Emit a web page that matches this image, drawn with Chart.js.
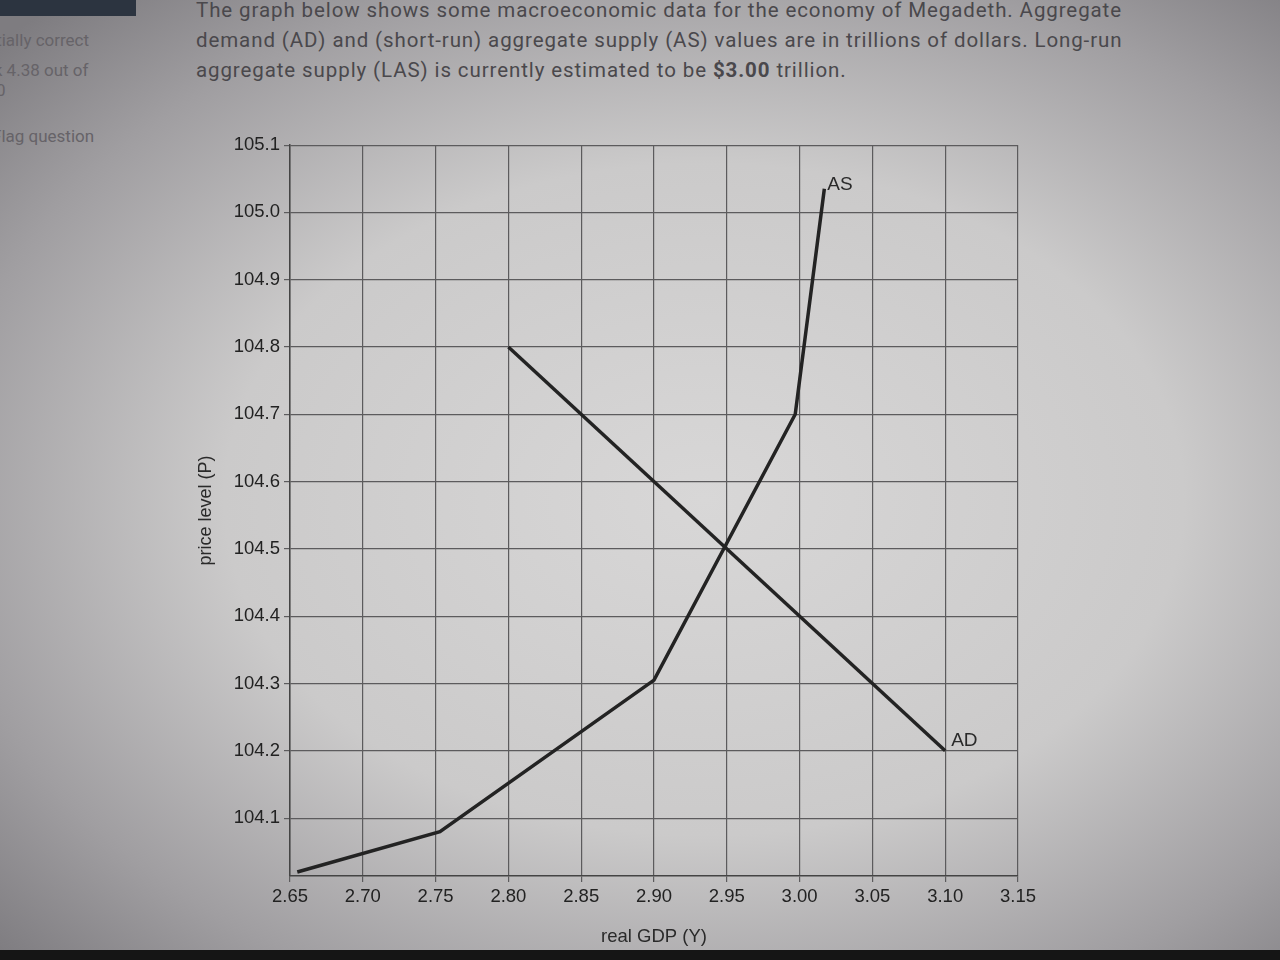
<!DOCTYPE html>
<html>
<head>
<meta charset="utf-8">
<script src="https://cdn.jsdelivr.net/npm/chart.js@4.4.0/dist/chart.umd.min.js"></script>
<style>
  html, body { margin: 0; padding: 0; }
  body {
    width: 1280px; height: 960px; overflow: hidden; position: relative;
    background: radial-gradient(ellipse 75% 70% at 55% 52%, #d8d7d7 0%, #cbcaca 50%, #a09ea1 80%, #7e7c80 100%);
    font-family: "Liberation Sans", Arial, sans-serif;
  }
  .intro {
    position: absolute; left: 196px; top: -5px; width: 1000px;
    font-family: Roboto, "Liberation Sans", sans-serif;
    font-size: 20.5px; letter-spacing: 0.9px; line-height: 30px; color: #4a484c;
  }
  .side { position: absolute; font-family: Roboto, sans-serif; font-size: 17px; color: #666368; white-space: nowrap; }
  .qbox { position: absolute; left: 0; top: 0; width: 136px; height: 16px; background: #2c3440; }
  .bottom { position: absolute; left: 0; top: 950px; width: 1280px; height: 10px; background: #151515; }
  #wrap { position: absolute; left: 195px; top: 130px; width: 845px; height: 818px; }
</style>
</head>
<body>
<div class="qbox"></div>
<div class="side" style="left:-10px; top:30px;">rtially correct</div>
<div class="side" style="left:-12px; top:60px;">rk 4.38 out of</div>
<div class="side" style="left:-4px; top:80px;">0</div>
<div class="side" style="left:-8px; top:126px;">Flag question</div>
<div class="intro">
  The graph below shows some macroeconomic data for the economy of Megadeth. Aggregate<br>
  demand (AD) and (short-run) aggregate supply (AS) values are in trillions of dollars. Long-run<br>
  aggregate supply (LAS) is currently estimated to be <b>$3.00</b> trillion.
</div>
<div id="wrap"><canvas id="chart" width="845" height="818"></canvas></div>
<div class="bottom"></div>

<script>
// real GDP (trillions) and price level values
const asGdp = [2.655, 2.753, 2.90, 2.997, 3.017];
const asPrice = [104.02, 104.08, 104.305, 104.70, 105.035];
const adGdp = [2.80, 3.10];
const adPrice = [104.80, 104.20];

const xTicks = [2.65, 2.70, 2.75, 2.80, 2.85, 2.90, 2.95, 3.00, 3.05, 3.10, 3.15];
const yTicks = [104.1, 104.2, 104.3, 104.4, 104.5, 104.6, 104.7, 104.8, 104.9, 105.0, 105.1];

const toPoints = (xs, ys) => xs.map((x, i) => ({ x: x, y: ys[i] }));

// Write the curve name right next to its last point
const endLabels = {
    id: 'endLabels',
    afterDatasetsDraw(chart) {
        const ctx = chart.ctx;
        ctx.save();
        ctx.font = '19px "Liberation Sans", Arial, sans-serif';
        ctx.fillStyle = '#2a2a2a';
        ctx.textBaseline = 'middle';
        chart.data.datasets.forEach((ds, i) => {
            const pts = chart.getDatasetMeta(i).data;
            const last = pts[pts.length - 1];
            if (ds.label === 'AS') {
                ctx.fillText(ds.label, last.x + 3, last.y - 4);
            } else {
                ctx.fillText(ds.label, last.x + 6, last.y - 10);
            }
        });
        ctx.restore();
    }
};

const gridColor = '#5c5b5d';
const tickFont = { family: '"Liberation Sans", Arial, sans-serif', size: 18.5 };

new Chart(document.getElementById('chart').getContext('2d'), {
    type: 'line',
    data: {
        datasets: [{
            label: 'AS',
            data: toPoints(asGdp, asPrice),
            borderColor: '#232323',
            borderWidth: 3.5,
            pointRadius: 0,
            tension: 0
        }, {
            label: 'AD',
            data: toPoints(adGdp, adPrice),
            borderColor: '#232323',
            borderWidth: 3.5,
            pointRadius: 0,
            tension: 0
        }]
    },
    options: {
        responsive: false,
        animation: false,
        layout: { padding: { top: 12, right: 20, left: 0, bottom: 0 } },
        plugins: {
            legend: { display: false },
            tooltip: { enabled: false }
        },
        scales: {
            x: {
                type: 'linear',
                min: 2.65,
                max: 3.15,
                afterBuildTicks: axis => { axis.ticks = xTicks.map(v => ({ value: v })); },
                afterFit: axis => { axis.height = 72; },
                grid: { color: gridColor, lineWidth: 1.2, tickLength: 6 },
                border: { color: '#444', width: 1.5 },
                ticks: {
                    color: '#222',
                    font: tickFont,
                    padding: 4,
                    maxRotation: 0,
                    callback: v => Number(v).toFixed(2)
                },
                title: {
                    display: true,
                    text: 'real GDP (Y)',
                    color: '#2a2a2a',
                    font: { family: '"Liberation Sans", Arial, sans-serif', size: 18.5 },
                    padding: { top: 4, bottom: 0 }
                }
            },
            y: {
                type: 'linear',
                min: 104.014,
                max: 105.1,
                afterBuildTicks: axis => { axis.ticks = yTicks.map(v => ({ value: v })); },
                afterFit: axis => { axis.width = 95; },
                grid: { color: gridColor, lineWidth: 1.2, tickLength: 6 },
                border: { color: '#444', width: 1.5 },
                ticks: {
                    color: '#222',
                    font: tickFont,
                    padding: 4,
                    callback: v => Number(v).toFixed(1)
                },
                title: {
                    display: true,
                    text: 'price level (P)',
                    color: '#2a2a2a',
                    font: { family: '"Liberation Sans", Arial, sans-serif', size: 18 },
                    padding: { top: 0, bottom: 2 }
                }
            }
        }
    },
    plugins: [endLabels]
});
</script>
</body>
</html>
